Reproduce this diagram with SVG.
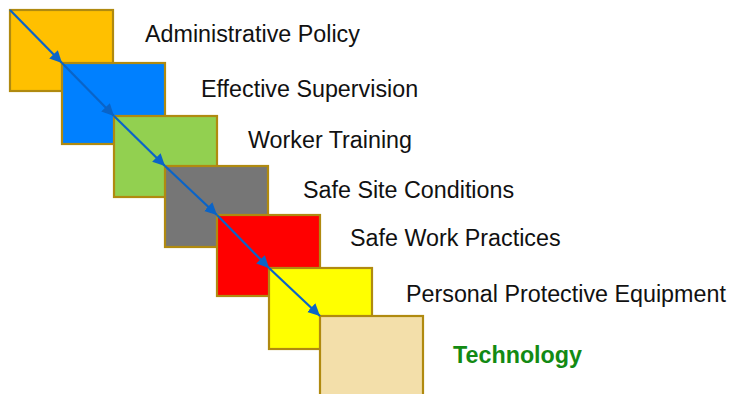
<svg xmlns="http://www.w3.org/2000/svg" width="731" height="394" viewBox="0 0 731 394">
<style>
.box{stroke:#B08A10;stroke-width:2.2}
.lbl{font-family:"Liberation Sans",Arial,sans-serif;font-size:23.3px;fill:#111}
.conn{stroke:#0A64C8;stroke-width:2.2;fill:none;marker-end:url(#ah)}
</style>
<defs>
<marker id="ah" viewBox="0 0 10 10" refX="10" refY="5" markerWidth="5.5" markerHeight="5.5" orient="auto" markerUnits="strokeWidth">
<path d="M0,0 L10,5 L0,10 z" fill="#0A64C8"/>
</marker>
</defs>
<rect width="731" height="394" fill="#fff"/>
<g id="n1"><rect class="box" x="10" y="10" width="103" height="81" fill="#FFC000"/><text class="lbl" x="145" y="42">Administrative Policy</text></g>
<g id="n2"><rect class="box" x="62" y="63" width="103" height="81" fill="#0080FF"/><text class="lbl" x="201" y="97">Effective Supervision</text></g>
<g id="n3"><rect class="box" x="114" y="116" width="103" height="81" fill="#92D050"/><text class="lbl" x="248" y="148">Worker Training</text></g>
<g id="n4"><rect class="box" x="165" y="166" width="103" height="81" fill="#767676"/><text class="lbl" x="303" y="198">Safe Site Conditions</text></g>
<g id="n5"><rect class="box" x="217" y="215" width="103" height="81" fill="#FF0000"/><text class="lbl" x="350" y="246">Safe Work Practices</text></g>
<g id="n6"><rect class="box" x="269" y="268" width="103" height="81" fill="#FFFF00"/><text class="lbl" x="406" y="302">Personal Protective Equipment</text></g>
<g id="n7"><rect class="box" x="320" y="316" width="103" height="90" fill="#F3DFAA"/><text class="lbl" x="453" y="363" style="font-weight:bold;fill:#138A13">Technology</text></g>
<g id="connectors">
<line class="conn" x1="10" y1="10" x2="62" y2="63"/>
<line class="conn" x1="62" y1="63" x2="114" y2="116"/>
<line class="conn" x1="114" y1="116" x2="165" y2="166"/>
<line class="conn" x1="165" y1="166" x2="217" y2="215"/>
<line class="conn" x1="217" y1="215" x2="269" y2="268"/>
<line class="conn" x1="269" y1="268" x2="320" y2="316"/>
</g>
</svg>
